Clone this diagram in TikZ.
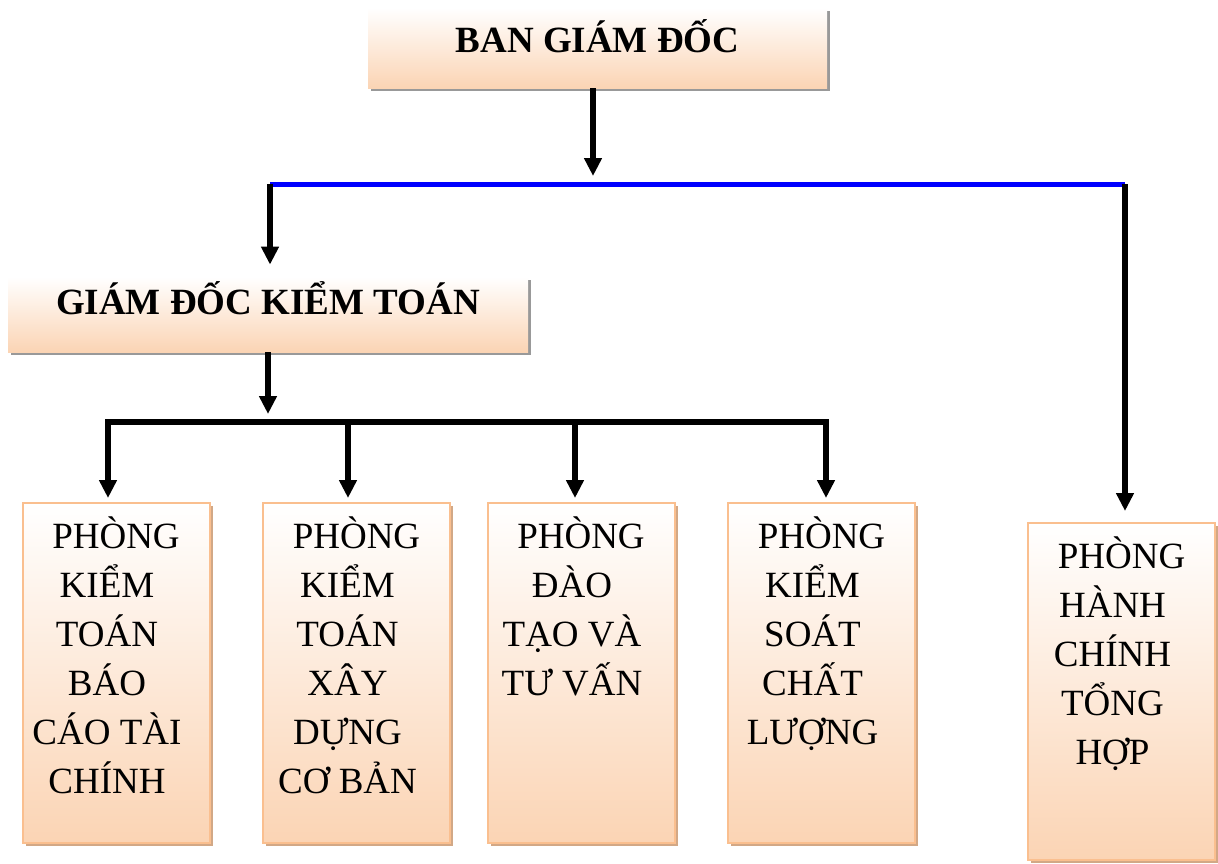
\documentclass[tikz,border=0pt]{standalone}
\usepackage{fontspec}
\setmainfont{Liberation Serif}
\usetikzlibrary{arrows.meta,positioning,shadows}
\definecolor{peach}{HTML}{FBD4B4}
\definecolor{peachline}{HTML}{FABF8F}
\definecolor{tanshadow}{HTML}{D2A886}
\definecolor{linkblue}{HTML}{0000FF}

\begin{document}
\begin{tikzpicture}[x=0.5pt,y=-0.5pt,>=Latex,
head box/.style={shading=axis,top color=white,bottom color=peach,inner sep=0pt,
  drop shadow={shadow xshift=1.5pt,shadow yshift=-1.5pt,fill=black!40,opacity=1}},
dept box/.style={shading=axis,top color=white,bottom color=peach,draw=peachline,line width=1pt,
  inner sep=0pt,minimum width=93.5pt,
  drop shadow={shadow xshift=1.5pt,shadow yshift=-1.5pt,fill=tanshadow,opacity=1}},
head text/.style={font=\bfseries\fontsize{18.5}{24.5}\selectfont,inner sep=0pt,anchor=base},
dept text/.style={font=\fontsize{18.5}{24.5}\selectfont,align=center,inner sep=0pt,anchor=north},
flow/.style={-{Triangle[length=9pt,width=8.5pt]},line width=3pt},
blue link/.style={draw=linkblue,line width=2.5pt},
black link/.style={draw=black,line width=3pt}]
\fill[white] (0,0) rectangle (1218,863);
% top levels
\node[head box,minimum width=229.5pt,minimum height=40pt] (bgd) at (597.5,48) {};
\node[head text] (bgd-t) at ([yshift=-2pt]bgd.center) {BAN GIÁM ĐỐC};
\node[head box,minimum width=260pt,minimum height=37.5pt] (gdkt) at (268,314.5) {};
\node[head text] (gdkt-t) at ([yshift=0pt]gdkt.center) {GIÁM ĐỐC KIỂM TOÁN};
% departments
\foreach \nm/\cx/\cy/\bh/\txt in {
  p1/116/673/170/{\hspace*{9pt}PHÒNG\\KIỂM\\TOÁN\\BÁO\\CÁO TÀI\\CHÍNH},
  p2/356.5/673/170/{\hspace*{9pt}PHÒNG\\KIỂM\\TOÁN\\XÂY\\DỰNG\\CƠ BẢN},
  p3/581/673/170/{\hspace*{9pt}PHÒNG\\ĐÀO\\TẠO VÀ\\TƯ VẤN},
  p4/821.5/673/170/{\hspace*{9pt}PHÒNG\\KIỂM\\SOÁT\\CHẤT\\LƯỢNG},
  p5/1121.5/691.5/168.5/{\hspace*{9pt}PHÒNG\\HÀNH\\CHÍNH\\TỔNG\\HỢP}}{
  \node[dept box,minimum height=\bh pt] (\nm) at (\cx,\cy) {};
  \node[dept text] (\nm-t) at ([xshift=-4.5pt,yshift=-7pt]\nm.north) {\txt};
}
% connectors
\coordinate (j0) at (593,176);
\coordinate (bl) at (270,184);
\coordinate (br) at (1125,184);
\draw[flow] (bgd.south -| j0) -- (j0);
\draw[blue link] (bl) -- (br);
\draw[flow,shorten >=6pt] (bl) -- (gdkt.north -| bl);
\draw[flow,shorten >=5.5pt] (br) -- (p5.north -| br);
\coordinate (j1) at (268,414);
\draw[flow] (gdkt.south -| j1) -- (j1);
\foreach \nm/\cx in {p1/108,p2/348,p3/575,p4/826}{
  \coordinate (c-\nm) at (\cx,422);
  \draw[flow,shorten >=2pt] (c-\nm) -- (\nm.north -| c-\nm);
}
\draw[black link] ([xshift=-1.5pt]c-p1) -- ([xshift=1.5pt]c-p4);
\end{tikzpicture}
\end{document}
